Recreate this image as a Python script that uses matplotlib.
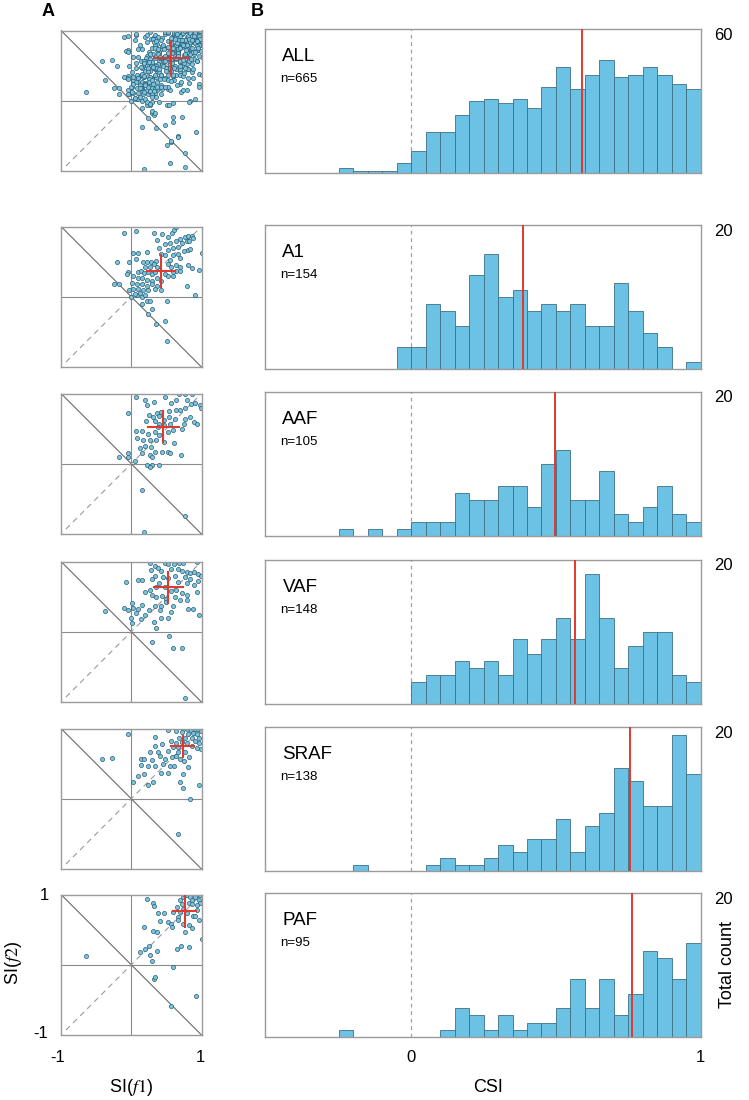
"""
plot.py
Scatter SI(f1)/SI(f2) (panel A) and CSI histograms (panel B) per field.
"""

import matplotlib
matplotlib.use("Agg")
import matplotlib.pyplot as plt
import numpy as np

plt.rcParams["font.family"] = ["Liberation Sans", "DejaVu Sans"]
plt.rcParams["mathtext.fontset"] = "stix"

# ---------------------------------------------------------------- data
regions = ["ALL", "A1", "AAF", "VAF", "SRAF", "PAF"]
n_cells = [665, 154, 105, 148, 138, 95]
bin_left = np.round(np.arange(-0.25, 1.0, 0.05), 2)
bin_width = 0.05

counts_all = [2, 1, 1, 1, 4, 9, 17, 17, 24, 30, 31, 29, 31, 27, 36, 44, 35, 41, 47, 40, 41, 44, 41, 37, 35]
counts_a1 = [0, 0, 0, 0, 3, 3, 9, 8, 6, 13, 16, 10, 11, 8, 9, 8, 9, 6, 6, 12, 8, 5, 3, 0, 1]
counts_aaf = [1, 0, 1, 0, 1, 2, 2, 2, 6, 5, 5, 7, 7, 4, 10, 12, 5, 5, 9, 3, 2, 4, 7, 3, 2]
counts_vaf = [0, 0, 0, 0, 0, 3, 4, 4, 6, 5, 6, 4, 9, 7, 9, 12, 9, 18, 12, 5, 8, 10, 10, 4, 3]
counts_sraf = [0, 1, 0, 0, 0, 0, 1, 2, 1, 1, 2, 4, 3, 5, 5, 8, 3, 7, 9, 16, 14, 10, 10, 21, 15]
counts_paf = [1, 0, 0, 0, 0, 0, 0, 1, 4, 3, 1, 3, 1, 2, 2, 4, 8, 4, 8, 3, 6, 12, 11, 8, 13]

csi_mean = [0.59, 0.385, 0.497, 0.565, 0.756, 0.764]
y_max = [60, 20, 20, 20, 22.3, 20]
y_label = ["60", "20", "20", "20", "20", "20"]

# mean and spread of SI(f1), SI(f2) (red cross)
cross_x = [0.57, 0.42, 0.455, 0.53, 0.73, 0.76]
cross_y = [0.61, 0.37, 0.53, 0.63, 0.75, 0.76]
cross_dx = [0.25, 0.20, 0.22, 0.20, 0.16, 0.16]
cross_dy = [0.245, 0.225, 0.22, 0.22, 0.15, 0.22]

a1_pts = [
    (-0.11, 0.91), (0.07, 0.94), (0.33, 0.91), (0.44, 0.90), (0.58, 0.91), (0.61, 0.95),
    (0.64, 0.99), (0.53, 0.85), (0.36, 0.81), (0.48, 0.75), (0.55, 0.76), (0.63, 0.80),
    (0.69, 0.82), (0.76, 0.85), (0.81, 0.86), (0.86, 0.87), (0.88, 0.84), (0.79, 0.80),
    (0.72, 0.76), (0.82, 0.79), (0.67, 0.71), (0.60, 0.70), (0.75, 0.65), (0.81, 0.66),
    (0.83, 0.68), (1.00, 0.62), (0.39, 0.70), (0.53, 0.67), (0.42, 0.61), (0.48, 0.59),
    (0.67, 0.61), (0.70, 0.55), (0.60, 0.59), (0.02, 0.62), (0.10, 0.62), (0.07, 0.54),
    (0.22, 0.63), (-0.20, 0.49), (-0.03, 0.49), (0.17, 0.49), (0.22, 0.49), (0.28, 0.50),
    (0.35, 0.51), (0.19, 0.42), (0.26, 0.43), (0.32, 0.47), (0.37, 0.42), (0.55, 0.52),
    (0.53, 0.47), (0.57, 0.42), (0.63, 0.45), (0.69, 0.42), (0.64, 0.37), (0.70, 0.36),
    (0.81, 0.45), (0.86, 0.41), (0.96, 0.38), (-0.04, 0.35), (-0.06, 0.32), (0.02, 0.30),
    (0.09, 0.35), (0.14, 0.36), (0.18, 0.34), (0.24, 0.35), (0.29, 0.33), (0.34, 0.35),
    (0.48, 0.33), (0.53, 0.30), (0.59, 0.29), (0.60, 0.35), (0.10, 0.26), (0.15, 0.27),
    (0.22, 0.24), (0.29, 0.23), (0.36, 0.27), (0.42, 0.23), (-0.25, 0.18), (-0.17, 0.18),
    (0.01, 0.19), (0.08, 0.18), (0.16, 0.18), (0.22, 0.16), (0.30, 0.18), (0.37, 0.16),
    (0.34, 0.11), (0.43, 0.09), (0.79, 0.15), (0.91, 0.03), (-0.03, 0.09), (0.03, 0.11),
    (0.10, 0.11), (0.17, 0.09), (0.24, 0.10), (0.00, 0.00), (0.08, 0.02), (0.15, -0.01),
    (0.22, -0.06), (0.27, -0.06), (0.51, -0.06), (0.15, -0.11), (0.30, -0.18), (0.24, -0.25),
    (0.35, -0.39), (0.48, -0.34), (0.51, -0.63), (0.05, 0.04), (0.12, 0.05), (0.20, 0.03),
]

aaf_pts = [
    (-0.05, 0.72), (0.07, 0.95), (0.19, 0.91), (0.22, 0.83), (0.32, 0.88), (0.48, 0.95),
    (0.57, 0.87), (0.68, 0.99), (0.76, 0.99), (0.87, 0.99), (0.63, 0.91), (0.79, 0.91),
    (0.91, 0.87), (0.98, 0.83), (0.99, 0.79), (0.85, 0.85), (0.76, 0.79), (0.69, 0.76),
    (0.64, 0.76), (0.54, 0.75), (0.43, 0.74), (0.36, 0.72), (0.31, 0.67), (0.25, 0.69),
    (0.40, 0.68), (0.54, 0.67), (0.62, 0.63), (0.77, 0.63), (0.83, 0.66), (0.90, 0.60),
    (0.94, 0.57), (0.21, 0.61), (0.34, 0.61), (0.40, 0.57), (0.75, 0.57), (0.72, 0.49),
    (0.07, 0.47), (0.15, 0.47), (0.24, 0.43), (0.34, 0.45), (0.39, 0.41), (0.52, 0.45),
    (0.60, 0.48), (0.08, 0.36), (0.17, 0.34), (0.27, 0.34), (0.35, 0.34), (0.47, 0.31),
    (0.61, 0.30), (0.13, 0.22), (0.20, 0.25), (0.28, 0.24), (0.34, 0.17), (0.44, 0.17),
    (0.52, 0.17), (0.55, 0.15), (0.71, 0.12), (-0.17, 0.10), (-0.04, 0.16), (-0.04, 0.09),
    (0.06, 0.04), (0.15, 0.15), (0.26, 0.13), (0.29, 0.09), (0.22, -0.02), (0.29, -0.02),
    (0.39, -0.02), (0.27, -0.04), (0.15, -0.38), (0.76, -0.74), (0.18, -0.97), (0.38, 0.53),
    (0.47, 0.55), (0.55, 0.56), (0.46, 0.62),
]

vaf_pts = [
    (-0.07, 0.71), (-0.38, 0.30), (0.10, 0.74), (0.15, 0.74), (0.26, 0.98), (0.34, 0.93),
    (0.48, 0.98), (0.53, 0.96), (0.61, 0.97), (0.68, 0.98), (0.74, 0.98), (0.94, 0.99),
    (0.28, 0.88), (0.38, 0.91), (0.42, 0.86), (0.57, 0.89), (0.66, 0.90), (0.72, 0.86),
    (0.79, 0.85), (0.83, 0.84), (0.90, 0.85), (0.95, 0.82), (0.99, 0.79), (0.34, 0.79),
    (0.45, 0.78), (0.52, 0.76), (0.62, 0.79), (0.76, 0.78), (0.84, 0.75), (0.95, 0.72),
    (0.29, 0.75), (0.39, 0.70), (0.67, 0.71), (0.80, 0.70), (0.90, 0.67), (0.19, 0.57),
    (0.27, 0.60), (0.35, 0.63), (0.48, 0.63), (0.57, 0.58), (0.64, 0.60), (0.72, 0.55),
    (0.79, 0.53), (0.94, 0.57), (0.29, 0.52), (0.35, 0.49), (0.44, 0.51), (0.50, 0.47),
    (0.62, 0.49), (0.69, 0.45), (0.80, 0.45), (0.01, 0.41), (0.03, 0.34), (-0.11, 0.34),
    (-0.05, 0.31), (0.10, 0.32), (0.16, 0.38), (0.25, 0.31), (0.34, 0.37), (0.42, 0.37),
    (0.49, 0.42), (0.41, 0.31), (0.56, 0.28), (0.60, 0.36), (0.81, 0.33), (0.88, 0.32),
    (0.96, 0.24), (0.00, 0.20), (0.01, 0.13), (0.14, 0.18), (0.20, 0.24), (0.32, 0.14),
    (0.42, 0.19), (0.53, 0.19), (0.35, 0.05), (0.54, -0.06), (0.30, -0.14), (0.59, -0.23),
    (0.72, -0.23), (0.76, -0.94), (0.07, 0.26),
]

sraf_pts = [
    (-0.05, 0.92), (-0.42, 0.56), (-0.28, 0.58), (0.34, 0.88), (0.53, 0.98), (0.64, 0.97),
    (0.74, 0.99), (0.79, 0.99), (0.85, 0.98), (0.91, 1.00), (0.95, 1.00), (0.99, 0.97),
    (0.72, 0.95), (0.81, 0.92), (0.88, 0.94), (0.94, 0.92), (0.68, 0.87), (0.76, 0.87),
    (0.86, 0.87), (0.97, 0.87), (0.57, 0.82), (0.64, 0.80), (0.72, 0.81), (0.80, 0.80),
    (0.91, 0.82), (0.97, 0.80), (0.44, 0.78), (0.59, 0.74), (0.67, 0.73), (0.86, 0.75),
    (0.93, 0.72), (0.99, 0.71), (0.27, 0.66), (0.38, 0.67), (0.53, 0.68), (0.76, 0.66),
    (0.82, 0.59), (0.14, 0.57), (0.18, 0.56), (0.29, 0.55), (0.48, 0.57), (0.58, 0.60),
    (0.63, 0.61), (0.69, 0.57), (0.75, 0.54), (0.14, 0.48), (0.24, 0.47), (0.34, 0.47),
    (0.45, 0.49), (0.55, 0.47), (0.61, 0.47), (0.81, 0.45), (0.09, 0.32), (0.18, 0.35),
    (0.43, 0.37), (0.52, 0.37), (0.74, 0.35), (0.02, 0.24), (0.24, 0.19), (0.31, 0.24),
    (0.70, 0.24), (0.74, 0.16), (0.96, 0.20), (0.83, -0.01), (0.67, -0.50), (0.34, 0.75),
    (0.41, 0.61), (0.67, 0.66),
]

paf_pts = [
    (-0.65, 0.12), (0.23, 0.93), (0.31, 0.88), (0.33, 0.83), (0.38, 0.73), (0.18, 0.54),
    (0.31, 0.48), (0.37, 0.46), (0.41, 0.62), (0.46, 0.73), (0.53, 0.61), (0.56, 0.58),
    (0.58, 0.54), (0.60, 0.75), (0.65, 0.82), (0.66, 0.68), (0.70, 0.92), (0.73, 0.97),
    (0.77, 0.99), (0.80, 1.00), (0.84, 0.96), (0.87, 0.92), (0.82, 0.88), (0.86, 0.86),
    (0.94, 1.00), (0.98, 0.99), (0.96, 0.92), (0.98, 0.88), (0.93, 0.85), (0.70, 0.75),
    (0.67, 0.63), (0.73, 0.58), (0.77, 0.47), (0.82, 0.57), (0.86, 0.52), (0.88, 0.70),
    (0.91, 0.70), (0.96, 0.63), (0.93, 0.78), (1.00, 0.36), (0.65, 0.22), (0.71, 0.26),
    (0.82, 0.25), (0.13, 0.18), (0.20, 0.22), (0.25, 0.26), (0.27, 0.14), (0.30, 0.06),
    (0.37, 0.20), (0.60, -0.03), (0.32, -0.20), (0.34, -0.17), (0.92, -0.45), (0.57, -0.59),
    (0.74, 0.80), (0.79, 0.73), (0.72, 0.87), (0.91, 0.97),
]

# cells outside the five named fields (only in ALL)
other_pts = [
    (0.55, -0.89), (0.67, -0.51), (0.56, -0.58), (0.82, -0.02), (0.60, -0.30), (-0.05, 0.70),
    (0.12, 0.80), (0.05, 0.86), (0.45, 0.80), (0.62, 0.88), (0.78, 0.72), (0.85, 0.60),
    (0.70, 0.50), (0.40, 0.45), (0.25, 0.55), (0.90, 0.92), (0.95, 0.75), (0.58, 0.68),
    (0.30, 0.30), (0.18, 0.12), (0.48, 0.20), (0.88, 0.45), (0.65, 0.95), (0.35, 0.85),
    (0.75, 0.40),
]

# ---------------------------------------------------------------- layout
W, H = 749, 1100
BAR_FACE = "#6bc2e4"
BAR_EDGE = "#3e6f85"
DOT_FACE = "#7cc5e0"
DOT_EDGE = "#2d5d73"
RED = "#e0392f"
FRAME = "#9a9a9a"

row_top = [29, 225, 392, 560, 727, 893]   # pixel top of each row


def px_box(left, top, width, height):
    """Pixel box -> figure fraction [l, b, w, h]."""
    return [left / W, 1 - (top + height) / H, width / W, height / H]


def fig_xy(x, y):
    return x / W, 1 - y / H


def style_frame(ax):
    for sp in ax.spines.values():
        sp.set_color(FRAME)
        sp.set_linewidth(1.0)
    ax.set_xticks([])
    ax.set_yticks([])


def draw_scatter(ax, pts, i):
    """Panel A: SI(f1) vs SI(f2) with reference lines and mean cross."""
    pts = np.asarray(pts)
    ax.axhline(0, color="#8a8a8a", lw=0.8, zorder=1)
    ax.axvline(0, color="#8a8a8a", lw=0.8, zorder=1)
    ax.plot([-1, 1], [1, -1], color="#6a6a6a", lw=0.8, zorder=1)
    ax.plot([-0.93, 1], [-0.93, 1], color="#9a9a9a", lw=0.8, ls=(0, (5, 4)), zorder=1)
    ax.scatter(pts[:, 0], pts[:, 1], s=9, c=DOT_FACE, edgecolors=DOT_EDGE,
               linewidths=0.5, zorder=2)
    cx, cy = cross_x[i], cross_y[i]
    ax.plot([cx - cross_dx[i], cx + cross_dx[i]], [cy, cy], color=RED, lw=1.5, zorder=3)
    ax.plot([cx, cx], [cy - cross_dy[i], cy + cross_dy[i]], color=RED, lw=1.5, zorder=3)
    ax.set_xlim(-1, 1)
    ax.set_ylim(-1, 1)
    style_frame(ax)


def draw_hist(ax, counts, i):
    """Panel B: CSI histogram with zero line and mean."""
    ax.bar(bin_left, counts, width=bin_width, align="edge", color=BAR_FACE,
           edgecolor=BAR_EDGE, linewidth=0.6, zorder=2)
    ax.axvline(0, color="#a0a0a0", lw=0.9, ls=(0, (3, 3)), zorder=1)
    ax.axvline(csi_mean[i], color=RED, lw=1.4, zorder=3)
    ax.set_xlim(-0.505, 1.0)
    ax.set_ylim(0, y_max[i])
    style_frame(ax)
    ax.text(0.04, 0.81, regions[i], transform=ax.transAxes, fontsize=13.5,
            ha="left", va="center")
    ax.text(0.035, 0.65, f"n={n_cells[i]}", transform=ax.transAxes, fontsize=9.5,
            ha="left", va="center")


fig = plt.figure(figsize=(W / 100, H / 100), dpi=100)

scatter_sets = [a1_pts + aaf_pts + vaf_pts + sraf_pts + paf_pts + other_pts,
                a1_pts, aaf_pts, vaf_pts, sraf_pts, paf_pts]
hist_sets = [counts_all, counts_a1, counts_aaf, counts_vaf, counts_sraf, counts_paf]

for i, top in enumerate(row_top):
    ax_s = fig.add_axes(px_box(61, top + 1.5, 140.5, 140.5))
    draw_scatter(ax_s, scatter_sets[i], i)

    ax_h = fig.add_axes(px_box(265, top, 435.7, 144))
    draw_hist(ax_h, hist_sets[i], i)

    fig.text(*fig_xy(723, top + 6), y_label[i], fontsize=12, ha="center", va="center")

# panel letters
fig.text(*fig_xy(48, 12), "A", fontsize=13, fontweight="bold", ha="center", va="center")
fig.text(*fig_xy(257, 12), "B", fontsize=13, fontweight="bold", ha="center", va="center")

# axis labels, bottom row
fig.text(*fig_xy(44, 895), "1", fontsize=12, ha="center", va="center")
fig.text(*fig_xy(41, 1034), "-1", fontsize=12, ha="center", va="center")
fig.text(*fig_xy(58, 1057), "-1", fontsize=12, ha="center", va="center")
fig.text(*fig_xy(200, 1057), "1", fontsize=12, ha="center", va="center")
fig.text(*fig_xy(13, 963), r"SI($\mathit{f2}$)", fontsize=13, rotation=90,
         ha="center", va="center")
fig.text(*fig_xy(131, 1088), r"SI($\mathit{f1}$)", fontsize=13, ha="center", va="center")

fig.text(*fig_xy(411, 1057), "0", fontsize=12, ha="center", va="center")
fig.text(*fig_xy(700, 1057), "1", fontsize=12, ha="center", va="center")
fig.text(*fig_xy(488, 1088), "CSI", fontsize=13, ha="center", va="center")
fig.text(*fig_xy(728, 965), "Total count", fontsize=13, rotation=90,
         ha="center", va="center")

fig.savefig("out.png", dpi=100)
plt.close(fig)
